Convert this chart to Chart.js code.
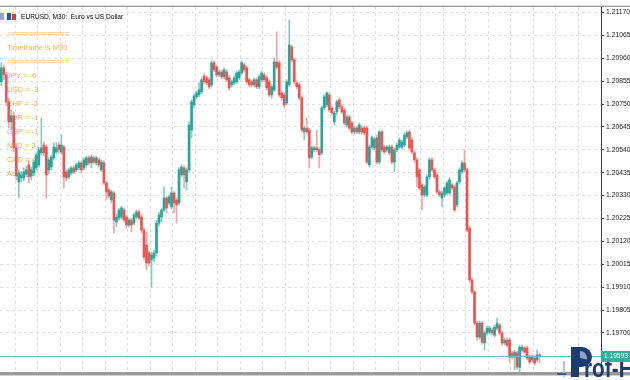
<!DOCTYPE html>
<html><head><meta charset="utf-8">
<script src="https://cdn.jsdelivr.net/npm/chart.js@4.4.1/dist/chart.umd.min.js"></script>
<style>html,body{margin:0;padding:0;background:#fff;}canvas{display:block}</style>
</head><body>
<canvas id="c" width="630" height="380"></canvas>
<script>
const symbolTitle = 'EURUSD, M30:  Euro vs US Dollar';
const infoLines = ['==============','Timeframe is M30','==============','JPY = -6','USD = -3','CHF = -2','EUR = -1','GBP = -1','NZD = 3','CAD = 4','AUD = 5'];
const currentPrice = 1.19593;
const yTicks = [1.21170,1.21065,1.20960,1.20855,1.20750,1.20645,1.20540,1.20435,1.20330,1.20225,1.20120,1.20015,1.19910,1.19805,1.19700];

const opens = [
1.20852,1.20916,1.20884,1.20760,1.20668,1.20696,1.20549,1.20393,1.20411,1.20411,
1.20429,1.20471,1.20420,1.20434,1.20457,1.20471,1.20526,1.20562,1.20553,1.20448,
1.20461,1.20503,1.20530,1.20562,1.20530,1.20553,1.20439,1.20416,1.20434,1.20457,
1.20448,1.20457,1.20480,1.20457,1.20471,1.20503,1.20480,1.20503,1.20480,1.20494,
1.20448,1.20480,1.20388,1.20356,1.20310,1.20342,1.20209,1.20227,1.20232,1.20264,
1.20232,1.20195,1.20218,1.20204,1.20232,1.20255,1.20232,1.20172,1.20103,1.20067,
1.20035,1.20044,1.20067,1.20204,1.20232,1.20264,1.20319,1.20296,1.20278,1.20342,
1.20310,1.20296,1.20425,1.20457,1.20393,1.20448,1.20631,1.20746,1.20783,1.20792,
1.20806,1.20879,1.20870,1.20861,1.20838,1.20939,1.20920,1.20884,1.20897,1.20875,
1.20897,1.20870,1.20838,1.20847,1.20852,1.20870,1.20893,1.20930,1.20916,1.20861,
1.20852,1.20838,1.20861,1.20829,1.20861,1.20884,1.20870,1.20852,1.20792,1.20815,
1.20943,1.20939,1.20801,1.20792,1.20755,1.20838,1.21012,1.20953,1.20847,1.20838,
1.20778,1.20622,1.20640,1.20631,1.20507,1.20540,1.20549,1.20540,1.20526,1.20732,
1.20746,1.20792,1.20732,1.20668,1.20714,1.20769,1.20737,1.20723,1.20654,1.20691,
1.20663,1.20622,1.20640,1.20622,1.20640,1.20640,1.20640,1.20471,1.20553,1.20549,
1.20595,1.20484,1.20622,1.20553,1.20540,1.20526,1.20553,1.20484,1.20540,1.20553,
1.20553,1.20562,1.20599,1.20622,1.20585,1.20526,1.20494,1.20448,1.20379,1.20333,
1.20333,1.20416,1.20494,1.20448,1.20425,1.20347,1.20319,1.20333,1.20342,1.20342,
1.20379,1.20370,1.20287,1.20393,1.20439,1.20480,1.20448,1.20181,1.19943,1.19888,
1.19745,1.19681,1.19745,1.19654,1.19700,1.19704,1.19713,1.19690,1.19722,1.19736,
1.19700,1.19654,1.19667,1.19667,1.19608,1.19589,1.19608,1.19543,1.19621,1.19631,
1.19631,1.19589,1.19576,1.19585,1.19576,1.19599];

const highs = [
1.20939,1.20930,1.20897,1.20778,1.20723,1.20714,1.20567,1.20448,1.20439,1.20457,
1.20466,1.20494,1.20461,1.20494,1.20526,1.20553,1.20686,1.20576,1.20562,1.20503,
1.20517,1.20572,1.20572,1.20576,1.20608,1.20562,1.20448,1.20457,1.20466,1.20466,
1.20480,1.20489,1.20489,1.20503,1.20512,1.20512,1.20517,1.20512,1.20512,1.20503,
1.20494,1.20489,1.20397,1.20365,1.20356,1.20351,1.20246,1.20273,1.20282,1.20273,
1.20241,1.20227,1.20227,1.20250,1.20264,1.20264,1.20241,1.20181,1.20163,1.20076,
1.20071,1.20080,1.20218,1.20255,1.20273,1.20370,1.20328,1.20333,1.20370,1.20351,
1.20319,1.20457,1.20471,1.20466,1.20457,1.20668,1.20769,1.20797,1.20810,1.20847,
1.20870,1.20888,1.20879,1.20870,1.20948,1.20948,1.20930,1.20907,1.20907,1.20916,
1.20907,1.20879,1.20861,1.20879,1.20902,1.20907,1.20948,1.20939,1.20925,1.20870,
1.20861,1.20870,1.20870,1.20884,1.20902,1.20893,1.20879,1.20861,1.20838,1.20962,
1.21081,1.20948,1.20810,1.20801,1.20861,1.21136,1.21021,1.20962,1.20856,1.20847,
1.20787,1.20650,1.20686,1.20640,1.20558,1.20558,1.20631,1.20549,1.20741,1.20792,
1.20806,1.20801,1.20741,1.20718,1.20769,1.20778,1.20746,1.20732,1.20700,1.20700,
1.20672,1.20650,1.20650,1.20663,1.20650,1.20650,1.20650,1.20562,1.20604,1.20599,
1.20608,1.20631,1.20631,1.20562,1.20562,1.20562,1.20562,1.20549,1.20572,1.20595,
1.20585,1.20618,1.20627,1.20631,1.20595,1.20535,1.20503,1.20457,1.20388,1.20379,
1.20425,1.20503,1.20503,1.20457,1.20434,1.20356,1.20351,1.20374,1.20397,1.20411,
1.20388,1.20379,1.20397,1.20457,1.20489,1.20540,1.20457,1.20191,1.19952,1.19897,
1.19755,1.19755,1.19755,1.19709,1.19732,1.19732,1.19722,1.19736,1.19768,1.19745,
1.19709,1.19677,1.19677,1.19677,1.19617,1.19621,1.19617,1.19644,1.19644,1.19640,
1.19640,1.19599,1.19599,1.19594,1.19621,1.19608];

const lows = [
1.20833,1.20861,1.20741,1.20640,1.20631,1.20530,1.20402,1.20319,1.20393,1.20397,
1.20416,1.20388,1.20402,1.20420,1.20448,1.20461,1.20517,1.20512,1.20319,1.20429,
1.20448,1.20494,1.20521,1.20526,1.20521,1.20365,1.20397,1.20406,1.20425,1.20429,
1.20439,1.20448,1.20434,1.20448,1.20461,1.20471,1.20457,1.20475,1.20471,1.20461,
1.20439,1.20379,1.20310,1.20319,1.20296,1.20159,1.20186,1.20218,1.20223,1.20209,
1.20181,1.20186,1.20163,1.20195,1.20223,1.20218,1.20159,1.20035,1.19989,1.20007,
1.19911,1.20026,1.20053,1.20191,1.20209,1.20255,1.20250,1.20287,1.20269,1.20250,
1.20204,1.20287,1.20416,1.20365,1.20356,1.20439,1.20595,1.20732,1.20774,1.20783,
1.20797,1.20842,1.20838,1.20820,1.20829,1.20897,1.20875,1.20875,1.20865,1.20865,
1.20852,1.20815,1.20829,1.20838,1.20842,1.20861,1.20884,1.20897,1.20842,1.20829,
1.20829,1.20829,1.20820,1.20820,1.20852,1.20852,1.20815,1.20783,1.20778,1.20806,
1.20911,1.20783,1.20769,1.20732,1.20746,1.20829,1.20943,1.20842,1.20820,1.20769,
1.20622,1.20585,1.20613,1.20457,1.20498,1.20530,1.20530,1.20457,1.20517,1.20723,
1.20737,1.20714,1.20700,1.20654,1.20700,1.20728,1.20705,1.20654,1.20645,1.20631,
1.20613,1.20613,1.20613,1.20613,1.20613,1.20608,1.20475,1.20461,1.20544,1.20540,
1.20475,1.20475,1.20530,1.20521,1.20530,1.20517,1.20475,1.20439,1.20530,1.20544,
1.20544,1.20553,1.20590,1.20540,1.20521,1.20484,1.20370,1.20356,1.20264,1.20324,
1.20324,1.20406,1.20439,1.20406,1.20338,1.20324,1.20278,1.20324,1.20333,1.20333,
1.20356,1.20255,1.20278,1.20383,1.20429,1.20439,1.20163,1.19934,1.19879,1.19736,
1.19667,1.19672,1.19649,1.19621,1.19690,1.19695,1.19690,1.19681,1.19713,1.19690,
1.19644,1.19644,1.19635,1.19566,1.19580,1.19530,1.19534,1.19521,1.19612,1.19603,
1.19576,1.19557,1.19566,1.19553,1.19566,1.19562];

const closes = [
1.20916,1.20884,1.20760,1.20668,1.20696,1.20549,1.20420,1.20434,1.20425,1.20439,
1.20448,1.20416,1.20448,1.20484,1.20517,1.20540,1.20549,1.20526,1.20425,1.20494,
1.20507,1.20553,1.20549,1.20540,1.20562,1.20416,1.20411,1.20448,1.20457,1.20439,
1.20471,1.20480,1.20448,1.20494,1.20503,1.20480,1.20507,1.20484,1.20503,1.20471,
1.20484,1.20388,1.20347,1.20328,1.20347,1.20218,1.20232,1.20264,1.20273,1.20218,
1.20195,1.20218,1.20195,1.20241,1.20255,1.20227,1.20172,1.20048,1.20021,1.20021,
1.20058,1.20067,1.20204,1.20241,1.20264,1.20319,1.20273,1.20324,1.20342,1.20296,
1.20287,1.20448,1.20461,1.20425,1.20448,1.20654,1.20760,1.20787,1.20801,1.20815,
1.20861,1.20852,1.20847,1.20829,1.20939,1.20907,1.20884,1.20897,1.20875,1.20907,
1.20861,1.20824,1.20852,1.20870,1.20893,1.20897,1.20939,1.20907,1.20852,1.20838,
1.20838,1.20861,1.20829,1.20875,1.20893,1.20861,1.20824,1.20792,1.20829,1.20943,
1.20920,1.20792,1.20778,1.20746,1.20852,1.21021,1.20953,1.20852,1.20829,1.20778,
1.20631,1.20640,1.20622,1.20503,1.20549,1.20549,1.20540,1.20517,1.20732,1.20783,
1.20801,1.20723,1.20709,1.20709,1.20760,1.20737,1.20714,1.20663,1.20691,1.20640,
1.20622,1.20640,1.20622,1.20654,1.20622,1.20618,1.20484,1.20553,1.20595,1.20590,
1.20484,1.20622,1.20540,1.20530,1.20553,1.20553,1.20484,1.20540,1.20562,1.20585,
1.20576,1.20608,1.20618,1.20549,1.20530,1.20494,1.20416,1.20365,1.20333,1.20370,
1.20416,1.20494,1.20448,1.20416,1.20347,1.20333,1.20342,1.20365,1.20388,1.20402,
1.20365,1.20264,1.20388,1.20448,1.20480,1.20448,1.20172,1.19943,1.19888,1.19745,
1.19681,1.19745,1.19658,1.19700,1.19722,1.19722,1.19700,1.19727,1.19745,1.19700,
1.19654,1.19667,1.19644,1.19589,1.19589,1.19612,1.19543,1.19635,1.19635,1.19612,
1.19585,1.19566,1.19589,1.19562,1.19599,1.19593];

const totalSlots = 240;
const yMin = 1.19521, yMax = 1.21195;

const UP = '#26a69a', DN = '#ef5350';
const UP_W = '#80cdc5', DN_W = '#f6a3a1';
const GRID = '#e0e0e0';
const isUp = i => closes[i] >= opens[i];

const slotLabels = Array.from({length: totalSlots}, (_, i) => String(i));

const decor = {
  id: 'decor',
  beforeDatasetsDraw(chart) {
    const ctx = chart.ctx;
    ctx.save();
    ctx.font = '7.6px "Liberation Sans", Arial, sans-serif';
    ctx.fillStyle = '#f9ad45';
    ctx.textBaseline = 'middle';
    infoLines.forEach((t, k) => ctx.fillText(t, 7, 33.5 + 14 * k));
    ctx.restore();
  },
  afterDraw(chart) {
    const ctx = chart.ctx;
    const a = chart.chartArea;
    const py = Math.round(chart.scales.y.getPixelForValue(currentPrice)) + 0.5;
    ctx.save();
    // current price line
    ctx.strokeStyle = '#5cc6b9';
    ctx.lineWidth = 1;
    ctx.beginPath(); ctx.moveTo(a.left, py); ctx.lineTo(a.right, py); ctx.stroke();
    // frame
    ctx.fillStyle = '#dcdcdc'; ctx.fillRect(0, 5, 630, 1);
    ctx.fillStyle = '#9a9a9a'; ctx.fillRect(0, 6, 630, 1);
    ctx.fillStyle = '#9a9a9a'; ctx.fillRect(0, 372, 630, 3);
    ctx.fillStyle = '#cfcfcf'; ctx.fillRect(0, 375, 630, 1);
    // title icons + text
    ctx.fillStyle = '#8ea4d4'; ctx.fillRect(0, 13, 4, 7);
    ctx.fillStyle = '#2f4fcf'; ctx.fillRect(7, 13, 4, 7);
    ctx.fillStyle = '#d83a3a'; ctx.fillRect(12, 14, 4, 6);
    ctx.font = '6.6px "Liberation Sans", Arial, sans-serif';
    ctx.fillStyle = '#000';
    ctx.textBaseline = 'middle';
    ctx.fillText(symbolTitle, 21, 17);
    // watermark logo
    const navy = '#1d3c6e';
    ctx.fillStyle = '#b8c2d0'; ctx.fillRect(563, 361, 2, 16);
    ctx.fillStyle = '#3a5a8a'; ctx.fillRect(557, 373, 9, 2);
    ctx.fillStyle = navy;
    ctx.beginPath();
    ctx.moveTo(571, 347); ctx.lineTo(582, 347);
    ctx.arc(582, 357, 10, -Math.PI / 2, Math.PI / 2);
    ctx.lineTo(579, 367); ctx.lineTo(579, 377); ctx.lineTo(571, 377); ctx.closePath();
    ctx.fill();
    ctx.fillStyle = '#8fa3c2';
    ctx.beginPath(); ctx.moveTo(580, 358); ctx.arc(580, 358, 7, -Math.PI / 2, 0.2); ctx.closePath(); ctx.fill();
    ctx.fillStyle = navy;
    ctx.font = 'bold 26px "Liberation Sans", Arial, sans-serif';
    ctx.textBaseline = 'alphabetic';
    ctx.save();
    ctx.translate(584, 377);
    ctx.scale(0.8, 1);
    ctx.fillText('rof-F', 0, 0);
    ctx.restore();
    // price label
    ctx.fillStyle = '#2fae9f';
    ctx.fillRect(601, py - 5.5, 29, 11);
    ctx.font = '6.6px "Liberation Sans", Arial, sans-serif';
    ctx.fillStyle = '#ffffff';
    ctx.textBaseline = 'middle';
    ctx.fillText(currentPrice.toFixed(5), 604, py);
    ctx.restore();
  }
};

new Chart(document.getElementById('c'), {
  type: 'bar',
  data: {
    labels: slotLabels,
    datasets: [
      {
        label: 'wick',
        data: highs.map((h, i) => [lows[i], h]),
        backgroundColor: c => isUp(c.dataIndex) ? UP_W : DN_W,
        barThickness: 1, grouped: false, order: 1, borderWidth: 0, minBarLength: 1
      },
      {
        label: 'body',
        data: opens.map((o, i) => [o, closes[i]]),
        backgroundColor: c => isUp(c.dataIndex) ? UP : DN,
        barThickness: 2, grouped: false, order: 0, borderWidth: 0, minBarLength: 1
      }
    ]
  },
  options: {
    responsive: false,
    animation: false,
    devicePixelRatio: 1,
    layout: { padding: { top: 7, bottom: 8, left: 0, right: 0 } },
    plugins: { legend: { display: false }, tooltip: { enabled: false } },
    scales: {
      x: {
        type: 'category',
        offset: true,
        ticks: { display: false },
        grid: {
          offset: true,
          drawTicks: false,
          color: c => (c.index % 9 === 6) ? GRID : 'rgba(0,0,0,0)'
        },
        border: { display: false, dash: [3, 3] },
        afterFit: s => { s.height = 0; }
      },
      y: {
        position: 'right',
        min: yMin, max: yMax,
        afterBuildTicks: s => { s.ticks = yTicks.map(v => ({ value: v })); },
        ticks: {
          callback: v => Number(v).toFixed(5),
          font: { family: '"Liberation Sans", Arial, sans-serif', size: 6.8 },
          color: '#222',
          padding: 2
        },
        grid: { color: GRID, tickColor: '#444', tickLength: 3, drawTicks: true },
        border: { display: true, color: '#444', width: 1, dash: [3, 3] },
        afterFit: s => { s.width = 29; }
      }
    }
  },
  plugins: [decor]
});
</script>
</body></html>
